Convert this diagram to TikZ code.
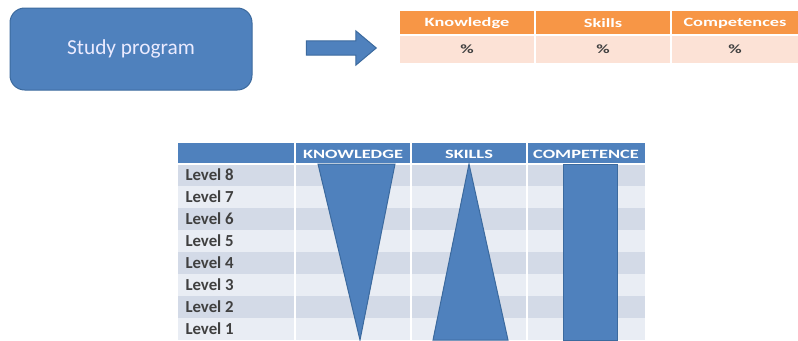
\documentclass[tikz,border=0pt]{standalone}
\usepackage{fontspec}
\setmainfont{Carlito}
\newfontfamily\widefont[FakeStretch=1.45]{Carlito}
\usetikzlibrary{shapes.arrows}

\definecolor{offblue}{HTML}{4F81BD}
\definecolor{offblueline}{HTML}{3C6A9E}
\definecolor{offorange}{HTML}{F79646}
\definecolor{offpink}{HTML}{FCE2D6}
\definecolor{rowdark}{HTML}{D3DAE7}
\definecolor{rowlight}{HTML}{E9EDF4}
\definecolor{labelgray}{HTML}{404040}

\tikzset{every picture/.style={line width=0.75pt}}
\tikzset{
  progbox/.style={draw=offblueline, fill=offblue, rounded corners=11pt, minimum width=181.5pt, minimum height=61.5pt, text=white!92!blue, font=\fontsize{16}{18}\selectfont},
  bigarrow/.style={single arrow, draw=offblueline, fill=offblue, minimum height=52.5pt, inner sep=5pt, single arrow head extend=7.5pt, single arrow tip angle=80},
  toptxt/.style={text=white, font=\widefont\bfseries\fontsize{9.5}{11}\selectfont, inner sep=0.75pt},
  pcttxt/.style={text=labelgray, font=\widefont\bfseries\fontsize{9.5}{11}\selectfont, inner sep=0.75pt},
  headtxt/.style={text=white, font=\widefont\bfseries\fontsize{9.5}{11}\selectfont, inner sep=0.75pt},
  leveltxt/.style={text=labelgray, font=\bfseries\fontsize{12.6}{14}\selectfont, anchor=west, inner sep=0.75pt},
  levelshape/.style={draw=offblueline, fill=offblue}
}

\begin{document}
\begin{tikzpicture}[x=0.75pt,y=0.75pt,yscale=-1,xscale=1]
\useasboundingbox (0,0) rectangle (798,340);

%Shape: Rounded Rect
\node[progbox] (prog) at (131,49) {Study program};
%Shape: Right Arrow
\node[bigarrow] (arr) at (337,48) {};

%Shape: Table (top)
\fill[offorange] (400,11) rectangle (798,35);
\fill[offpink] (400,35) rectangle (798,63);
\draw[white, line width=1.5pt] (400,35) -- (798,35);
\foreach \x in {535,671}
  \draw[white, line width=1.5pt] (\x,11) -- (\x,63);

% Text Node
\foreach \x/\nm/\txt in {467/kn/Knowledge, 603/sk/Skills, 735/co/Competences}{
  \node[toptxt] (\nm) at (\x,23) {\txt};
  \node[pcttxt] (\nm pct) at (\x,49) {\%};
}

%Shape: Table (levels)
\fill[offblue] (178,143) rectangle (645,164);
\foreach \i in {1,...,8}{
  \pgfmathtruncatemacro{\lev}{9-\i}
  \ifodd\i
    \fill[rowdark] (178,{164+22*(\i-1)}) rectangle (645,{164+22*\i});
  \else
    \fill[rowlight] (178,{164+22*(\i-1)}) rectangle (645,{164+22*\i});
  \fi
  \node[leveltxt] (lev\lev) at (184,{175+22*(\i-1)}) {Level \lev};
}
\draw[white, line width=1.2pt] (178,164) -- (645,164);
\foreach \x in {295,411,527}
  \draw[white, line width=1.2pt] (\x,143) -- (\x,340);

%Shape: Triangle (knowledge)
\draw[levelshape] (318,164) -- (395,164) -- (360,340) -- cycle;
%Shape: Triangle (skills)
\draw[levelshape] (469,164) -- (508,340) -- (433,340) -- cycle;
%Shape: Rectangle (competence)
\draw[levelshape] (563,164) rectangle (617,340);

% Text Node
\node[headtxt] (hkn) at (353,154) {KNOWLEDGE};
\node[headtxt] (hsk) at (469,154) {SKILLS};
\node[headtxt] (hco) at (586,154) {COMPETENCE};

\end{tikzpicture}
\end{document}
